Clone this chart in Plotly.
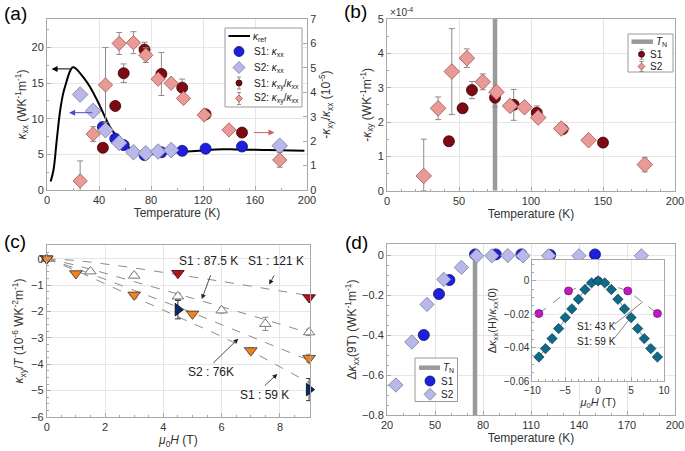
import plotly.graph_objects as go

# ---------------- data ----------------
# (a)
T_ref = [2.8, 5, 7.5, 10, 12.5, 15, 17.5, 19.5, 21, 23, 28, 33, 38, 43, 48, 53, 60, 67, 73, 77, 82, 92, 117, 130, 145, 170, 198]
k_ref = [1.2, 2.8, 7.0, 11.0, 13.6, 15.2, 16.6, 17.2, 17.2, 16.9, 15.8, 14.5, 12.8, 10.9, 9.0, 7.7, 6.4, 5.5, 5.0, 4.85, 5.05, 5.2, 5.5, 5.7, 5.7, 5.6, 5.5]

T_s1 = [43, 52.5, 59, 75, 88, 104, 122, 150]
kxx_s1 = [8.85, 7.2, 6.3, 4.9, 5.3, 5.5, 5.8, 6.1]
T_s2k = [25.5, 35.5, 45, 55.5, 66.5, 76, 85.5, 95.5, 179]
kxx_s2 = [13.4, 11.1, 8.4, 6.6, 5.3, 5.15, 5.4, 5.6, 6.2]

T_s2 = [25.5, 35.5, 45, 55.5, 66.5, 76, 85.5, 95.5, 105, 121, 140, 179]
ratio_s1 = [1.73, 3.44, 4.78, 5.75, 4.75, 4.19, 3.1, 2.35]
ratio_s1_err = [0.1, 0.15, 0.38, 0.3, 0.88, 0.35, 0.1, 0.1]
ratio_s2 = [0.37, 2.29, 4.3, 6.0, 6.03, 5.52, 4.54, 4.37, 3.75, 3.07, 2.46, 1.23]
ratio_s2_err = [0.82, 0.3, 1.53, 0.45, 0.45, 0.3, 0.15, 0.12, 0.1, 0.08, 0.08, 0.3]

# (b)
kxy_s1 = [1.44, 2.40, 2.93, 2.71, 2.50, 2.27, 1.79, 1.40]
kxy_s1_err = [0.05, 0.12, 0.25, 0.27, 0.45, 0.2, 0.05, 0.05]
kxy_s2 = [0.43, 2.40, 3.47, 3.86, 3.17, 2.87, 2.47, 2.43, 2.13, 1.81, 1.47, 0.76]
kxy_s2_err_plus = [1.07, 0.33, 1.25, 0.27, 0.23, 0.12, 0.13, 0.1, 0.08, 0.05, 0.05, 0.21]
kxy_s2_err_minus = [0.43, 0.33, 1.25, 0.27, 0.23, 0.12, 0.13, 0.1, 0.08, 0.05, 0.05, 0.21]
T_N = 75

# (c)
H_121 = [0, 4.5, 9]
v_121 = [0, -0.55, -1.47]
H_875 = [0, 1.5, 3, 4.5, 6, 7.5, 9]
v_875 = [0, -0.48, -0.64, -1.43, -1.96, -2.47, -2.79]
e_875 = [0, 0.05, 0.08, 0.12, 0.1, 0.25, 0.12]
H_76 = [0, 1, 3, 5, 7, 9]
v_76 = [0, -0.56, -1.37, -2.09, -3.48, -3.77]
e_76 = [0, 0.04, 0.06, 0.08, 0.1, 0.15]
H_59 = [4.5, 9]
v_59 = [-1.93, -4.96]
e_59 = [0.35, 0.42]
H_fit = [0, 1, 2, 3, 4, 5, 6, 7, 8, 9]
fit_121 = [0, -0.07, -0.2, -0.35, -0.52, -0.69, -0.86, -1.04, -1.22, -1.40]
fit_875 = [0, -0.25, -0.55, -0.87, -1.18, -1.5, -1.82, -2.15, -2.48, -2.82]
fit_76 = [0, -0.37, -0.78, -1.2, -1.62, -2.05, -2.5, -2.95, -3.4, -3.85]
fit_59 = [0, -0.45, -0.95, -1.45, -1.95, -2.45, -2.95, -3.5, -4.1, -4.7]

# (d)
dk_s1 = [-0.40, -0.195, -0.125, 0.003, 0.003, 0.003, 0.0, 0.003]
dk_s2 = [-0.65, -0.435, -0.247, -0.122, -0.062, -0.005, -0.004, -0.003, -0.004, -0.004, -0.004, -0.004]
H_43 = [-9, -4.5, 0, 4.5, 9]
r_43 = [-0.0196, -0.006, 0, -0.006, -0.0196]
H_59i = [-9, -8, -7, -6, -5, -4, -3, -2, -1, 0, 1, 2, 3, 4, 5, 6, 7, 8, 9]
r_59 = [-0.0456, -0.0406, -0.0346, -0.0286, -0.022, -0.0168, -0.011, -0.0052, -0.0012, 0,
        -0.0012, -0.0052, -0.011, -0.0168, -0.022, -0.0286, -0.0346, -0.0406, -0.0456]

# ---------------- style ----------------
FONT = "Liberation Sans, Arial, sans-serif"
W, H = 685, 451
GRID = "#e6e6e6"
FRAME = "#a8a8a8"
BLUE = "#1e1ee0"
BLUE_L = "#10106a"
LAV = "#b8b8ea"
LAV_L = "#7a7aa0"
DRED = "#7d0a12"
DRED_L = "#3a0006"
PINK = "#e99a96"
PINK_L = "#a0554f"
ERR = "#8c8c8c"
TN = "#9a9a9a"


def px(x):
    return x / W


def py(y):
    return 1 - y / H


def axstyle(**kw):
    d = dict(showline=True, linecolor=FRAME, linewidth=1, mirror=True, automargin=False,
             ticks="inside", ticklen=4, tickcolor=FRAME,
             showgrid=True, gridcolor=GRID, gridwidth=1, zeroline=False,
             tickfont=dict(family=FONT, size=11, color="#333"))
    d.update(kw)
    return d


def minor(dt, **kw):
    d = dict(ticks="inside", ticklen=2, tickcolor=FRAME, dtick=dt, showgrid=False)
    d.update(kw)
    return d


def title(t, standoff, size=12):
    return dict(text=t, font=dict(family=FONT, size=size, color="#333"), standoff=standoff)


fig = go.Figure()

# ---- (a) ----
fig.add_trace(go.Scatter(x=T_ref, y=k_ref, mode="lines", line=dict(color="black", width=2, shape="spline"),
                         xaxis="x", yaxis="y"))
fig.add_trace(go.Scatter(x=T_s1, y=ratio_s1, mode="markers", xaxis="x", yaxis="y5",
                         marker=dict(symbol="circle", size=11, color=DRED, line=dict(color=DRED_L, width=0.8)),
                         error_y=dict(type="data", array=ratio_s1_err, color=ERR, thickness=1, width=3)))
fig.add_trace(go.Scatter(x=T_s2, y=ratio_s2, mode="markers", xaxis="x", yaxis="y5",
                         marker=dict(symbol="diamond", size=11, color=PINK, line=dict(color=PINK_L, width=0.8)),
                         error_y=dict(type="data", array=ratio_s2_err, color=ERR, thickness=1, width=3)))
fig.add_trace(go.Scatter(x=T_s1, y=kxx_s1, mode="markers", xaxis="x", yaxis="y",
                         marker=dict(symbol="circle", size=11, color=BLUE, line=dict(color=BLUE_L, width=0.8))))
fig.add_trace(go.Scatter(x=T_s2k, y=kxx_s2, mode="markers", xaxis="x", yaxis="y",
                         marker=dict(symbol="diamond", size=12, color=LAV, line=dict(color=LAV_L, width=0.8))))

# ---- (b) ----
fig.add_trace(go.Scatter(x=[T_N, T_N], y=[0, 5], mode="lines", line=dict(color=TN, width=4.5),
                         xaxis="x2", yaxis="y2"))
fig.add_trace(go.Scatter(x=T_s1, y=kxy_s1, mode="markers", xaxis="x2", yaxis="y2",
                         marker=dict(symbol="circle", size=11, color=DRED, line=dict(color=DRED_L, width=0.8)),
                         error_y=dict(type="data", array=kxy_s1_err, color=ERR, thickness=1, width=3)))
fig.add_trace(go.Scatter(x=T_s2, y=kxy_s2, mode="markers", xaxis="x2", yaxis="y2",
                         marker=dict(symbol="diamond", size=12, color=PINK, line=dict(color=PINK_L, width=0.8)),
                         error_y=dict(type="data", symmetric=False, array=kxy_s2_err_plus,
                                      arrayminus=kxy_s2_err_minus, color=ERR, thickness=1, width=3)))

# ---- (c) ----
for fv in (fit_121, fit_875, fit_76, fit_59):
    fig.add_trace(go.Scatter(x=H_fit, y=fv, mode="lines", line=dict(color="#8a8a8a", width=1, dash="dash", shape="spline"),
                             xaxis="x3", yaxis="y3", hoverinfo="skip"))
fig.add_trace(go.Scatter(x=H_875, y=v_875, mode="markers", xaxis="x3", yaxis="y3", cliponaxis=False,
                         marker=dict(symbol="triangle-up", size=10, color="white", line=dict(color="#777", width=1)),
                         error_y=dict(type="data", array=e_875, color=ERR, thickness=1, width=3)))
fig.add_trace(go.Scatter(x=H_121, y=v_121, mode="markers", xaxis="x3", yaxis="y3", cliponaxis=False,
                         marker=dict(symbol="triangle-down", size=11, color="#b3151c", line=dict(color="#300", width=0.8))))
fig.add_trace(go.Scatter(x=H_59, y=v_59, mode="markers", xaxis="x3", yaxis="y3", cliponaxis=False,
                         marker=dict(symbol="triangle-right", size=11, color="#0c2a6a", line=dict(color="#000", width=0.8)),
                         error_y=dict(type="data", array=e_59, color="#333", thickness=1, width=3)))
fig.add_trace(go.Scatter(x=H_76, y=v_76, mode="markers", xaxis="x3", yaxis="y3", cliponaxis=False,
                         marker=dict(symbol="triangle-down", size=11, color="#f1821c", line=dict(color="#333", width=0.8)),
                         error_y=dict(type="data", array=e_76, color=ERR, thickness=1, width=3)))

# ---- (d) ----
fig.add_trace(go.Scatter(x=[T_N, T_N], y=[-0.8, 0], mode="lines", line=dict(color=TN, width=4.5),
                         xaxis="x4", yaxis="y4"))
fig.add_trace(go.Scatter(x=T_s1, y=dk_s1, mode="markers", xaxis="x4", yaxis="y4", cliponaxis=False,
                         marker=dict(symbol="circle", size=11, color=BLUE, line=dict(color=BLUE_L, width=0.8))))
fig.add_trace(go.Scatter(x=T_s2, y=dk_s2, mode="markers", xaxis="x4", yaxis="y4", cliponaxis=False,
                         marker=dict(symbol="diamond", size=11, color=LAV, line=dict(color=LAV_L, width=0.8))))
# inset
fig.add_trace(go.Scatter(x=H_43, y=r_43, mode="lines+markers", xaxis="x6", yaxis="y6",
                         line=dict(color="#8a8a8a", width=1, dash="dash"), cliponaxis=False,
                         marker=dict(symbol="circle", size=8, color="#c21ac2", line=dict(color="#500050", width=0.6))))
fig.add_trace(go.Scatter(x=H_59i, y=r_59, mode="lines+markers", xaxis="x6", yaxis="y6",
                         line=dict(color="#8a8a8a", width=1, dash="dash"), cliponaxis=False,
                         marker=dict(symbol="diamond", size=8, color="#0f6a88", line=dict(color="#03303f", width=0.6))))

# ---------------- layout ----------------
lay = dict(
    width=W, height=H, margin=dict(l=0, r=0, t=0, b=0, autoexpand=False), showlegend=False,
    paper_bgcolor="white", plot_bgcolor="white",
    font=dict(family=FONT, size=11, color="#333"),
    xaxis=axstyle(domain=[px(47), px(307)], range=[0, 200], dtick=40, anchor="y",
                  title=title("Temperature (K)", 2), minor=minor(20)),
    yaxis=axstyle(domain=[py(190), py(19)], range=[0, 24], dtick=5, anchor="x",
                  title=title("<i>κ</i><sub>xx</sub> (WK<sup>-1</sup>m<sup>-1</sup>)", 2), minor=minor(2.5)),
    yaxis5=axstyle(overlaying="y", side="right", range=[0, 7], dtick=1, anchor="x", showgrid=False, mirror=False,
                   title=title("-<i>κ</i><sub>xy</sub>/<i>κ</i><sub>xx</sub> (10<sup>-5</sup>)", 6)),
    xaxis2=axstyle(domain=[px(387), px(675)], range=[0, 200], dtick=50, anchor="y2",
                   title=title("Temperature (K)", 2), minor=minor(10)),
    yaxis2=axstyle(domain=[py(190.7), py(19)], range=[0, 5], dtick=1, anchor="x2",
                   title=title("-<i>κ</i><sub>xy</sub> (WK<sup>-1</sup>m<sup>-1</sup>)", 3), minor=minor(0.5)),
    xaxis3=axstyle(domain=[px(46.7), px(310)], range=[0, 9.03], dtick=2, anchor="y3",
                   title=title("<i>μ</i><sub>0</sub><i>H</i> (T)", 2), minor=minor(0.5)),
    yaxis3=axstyle(domain=[py(417), py(245)], range=[-6, 0.52], dtick=1, anchor="x3",
                   title=title("<i>κ</i><sub>xy</sub>/<i>T</i> (10<sup>-6</sup> WK<sup>-2</sup>m<sup>-1</sup>)", 4),
                   minor=minor(0.25)),
    xaxis4=axstyle(domain=[px(387), px(675)], range=[20, 200], tickvals=[20, 50, 80, 110, 140, 170, 200], anchor="y4",
                   title=title("Temperature (K)", 2), minor=minor(10, tick0=20)),
    yaxis4=axstyle(domain=[py(415), py(244)], range=[-0.8, 0.055], dtick=0.2, anchor="x4",
                   title=title("Δ<i>κ</i><sub>xx</sub>(9T) (WK<sup>-1</sup>m<sup>-1</sup>)", 2), minor=minor(0.05)),
    xaxis6=axstyle(domain=[px(532.3), px(664)], range=[-10, 10], dtick=5, anchor="y6",
                   tickfont=dict(family=FONT, size=10, color="#333"),
                   title=title("<i>μ</i><sub>0</sub><i>H</i> (T)", 2, 11), minor=minor(1)),
    yaxis6=axstyle(domain=[py(381), py(260)], range=[-0.06, 0.0125], dtick=0.02, anchor="x6",
                   tickfont=dict(family=FONT, size=10, color="#333"),
                   title=title("Δ<i>κ</i><sub>xx</sub>(H)/<i>κ</i><sub>xx</sub>(0)", 5, 11), minor=minor(0.005)),
)
fig.update_layout(**lay)

# ---------------- legends (drawn as decoration, pixel positions) ----------------
shapes = []
ann = []


def box(x0, y0, x1, y1):
    shapes.append(dict(type="rect", xref="paper", yref="paper", x0=px(x0), x1=px(x1), y0=py(y1), y1=py(y0),
                       fillcolor="white", line=dict(color="#9a9a9a", width=1), layer="above"))


def sw_line(x0, x1, y, color, width):
    shapes.append(dict(type="line", xref="paper", yref="paper", x0=px(x0), x1=px(x1), y0=py(y), y1=py(y),
                       line=dict(color=color, width=width), layer="above"))


def sw_err(cx, cy, h):
    shapes.append(dict(type="line", xref="paper", yref="paper", x0=px(cx), x1=px(cx), y0=py(cy - h), y1=py(cy + h),
                       line=dict(color=ERR, width=1), layer="above"))
    for yy in (cy - h, cy + h):
        sw_line(cx - 2, cx + 2, yy, ERR, 1)


def sw_circle(cx, cy, d, fill, edge):
    shapes.append(dict(type="circle", xref="paper", yref="paper", x0=px(cx - d / 2), x1=px(cx + d / 2),
                       y0=py(cy + d / 2), y1=py(cy - d / 2), fillcolor=fill,
                       line=dict(color=edge, width=0.8), layer="above"))


def sw_diamond(cx, cy, r, fill, edge):
    path = "M {},{} L {},{} L {},{} L {},{} Z".format(px(cx), py(cy - r), px(cx + r), py(cy),
                                                     px(cx), py(cy + r), px(cx - r), py(cy))
    shapes.append(dict(type="path", xref="paper", yref="paper", path=path, fillcolor=fill,
                       line=dict(color=edge, width=0.8), layer="above"))


def label(txt, x, y, size=10):
    ann.append(dict(text=txt, x=px(x), y=py(y), xref="paper", yref="paper", showarrow=False,
                    xanchor="left", yanchor="middle", font=dict(family=FONT, size=size, color="#222")))


# legend (a)
box(225, 28, 302, 107)
sw_line(228.5, 250, 36, "black", 2)
label("<i>κ</i><sub>ref</sub>", 251, 37)
sw_circle(239, 51.5, 10, BLUE, BLUE_L)
label("S1: <i>κ</i><sub>xx</sub>", 252, 52)
sw_diamond(239, 67.5, 6, LAV, LAV_L)
label("S2: <i>κ</i><sub>xx</sub>", 252, 68)
sw_err(239, 83, 6)
sw_circle(239, 83, 6, DRED, DRED_L)
label("S1: <i>κ</i><sub>xy</sub>/<i>κ</i><sub>xx</sub>", 252, 84)
sw_err(239, 98.5, 6)
sw_diamond(239, 98.5, 3.5, PINK, PINK_L)
label("S2: <i>κ</i><sub>xy</sub>/<i>κ</i><sub>xx</sub>", 252, 99)

# legend (b)
box(628, 34, 673, 72)
sw_line(631.5, 653, 41.7, TN, 4.5)
label("<i>T</i><sub>N</sub>", 654, 42)
sw_err(641.5, 54.3, 5)
sw_circle(641.5, 54.3, 6, DRED, DRED_L)
label("S1", 648, 54.5)
sw_err(641.5, 66.5, 5)
sw_diamond(641.5, 66.5, 3.5, PINK, PINK_L)
label("S2", 648, 66.7)

# legend (d)
box(415, 358, 457.5, 401.5)
sw_line(419, 440, 367.7, TN, 4.5)
label("<i>T</i><sub>N</sub>", 441, 368)
sw_circle(430, 381, 10, BLUE, BLUE_L)
label("S1", 438.5, 381.3)
sw_diamond(430, 394.3, 6, LAV, LAV_L)
label("S2", 438.5, 394.6)

# panel labels
for lab, x, y in (("(a)", 15.5, 14), ("(b)", 355, 11), ("(c)", 14.5, 241), ("(d)", 356, 242)):
    ann.append(dict(text=lab, x=px(x), y=py(y), xref="paper", yref="paper", showarrow=False,
                    font=dict(family=FONT, size=19, color="black"), xanchor="center", yanchor="middle"))
ann.append(dict(text="×10<sup>-4</sup>", x=px(388), y=py(12), xref="paper", yref="paper", showarrow=False,
                font=dict(family=FONT, size=10, color="#333"), xanchor="left", yanchor="middle"))
# arrows in (a)
ann.append(dict(x=3.5, y=17.0, ax=19, ay=17.0, xref="x", yref="y", axref="x", ayref="y", text="",
                showarrow=True, arrowhead=2, arrowsize=1.2, arrowwidth=1, arrowcolor="black"))
ann.append(dict(x=17, y=10.85, ax=36, ay=10.85, xref="x", yref="y", axref="x", ayref="y", text="",
                showarrow=True, arrowhead=2, arrowsize=1.2, arrowwidth=1, arrowcolor="#4a4ad0"))
ann.append(dict(x=175, y=2.35, ax=158, ay=2.35, xref="x", yref="y5", axref="x", ayref="y5", text="",
                showarrow=True, arrowhead=2, arrowsize=1.2, arrowwidth=1, arrowcolor="#d06060"))
# (c) labels
for txt, x, y in (("S1 : 87.5 K", 5.56, -0.07), ("S1 : 121 K", 7.86, -0.07),
                  ("S2 : 76K", 5.62, -4.30), ("S1 : 59 K", 7.46, -5.15)):
    ann.append(dict(text=txt, x=x, y=y, xref="x3", yref="y3", showarrow=False,
                    font=dict(family=FONT, size=12, color="#222")))
for (hx, hy, tx, ty) in ((5.32, -1.53, 5.64, -0.57), (7.63, -0.98, 7.83, -0.57),
                         (6.57, -3.03, 5.66, -4.01), (7.91, -4.37, 7.43, -4.86)):
    ann.append(dict(x=hx, y=hy, ax=tx, ay=ty, xref="x3", yref="y3", axref="x3", ayref="y3", text="",
                    showarrow=True, arrowhead=2, arrowsize=1.2, arrowwidth=0.8, arrowcolor="#222"))
# inset labels
for txt, x, y in (("S1: 43 K", -0.28, -0.0276), ("S1: 59 K", -0.22, -0.0362)):
    ann.append(dict(text=txt, x=x, y=y, xref="x6", yref="y6", showarrow=False,
                    font=dict(family=FONT, size=10, color="#222")))
for (hx, hy, tx, ty) in ((6.77, -0.0126, 2.3, -0.0266), (5.1, -0.0212, 2.3, -0.0352)):
    ann.append(dict(x=hx, y=hy, ax=tx, ay=ty, xref="x6", yref="y6", axref="x6", ayref="y6", text="",
                    showarrow=True, arrowhead=0, arrowwidth=0.7, arrowcolor="#555"))
fig.update_layout(annotations=ann, shapes=shapes)

fig.write_html("out.html", config={"displayModeBar": False},
               post_script="document.body.style.margin='0px';document.body.style.padding='0px';")
